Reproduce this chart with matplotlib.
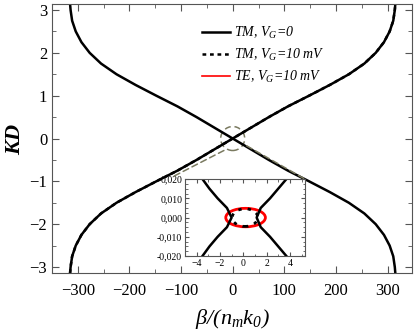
import matplotlib
matplotlib.use("Agg")
import matplotlib.pyplot as plt
from matplotlib.patches import Ellipse, ConnectionPatch
from matplotlib.ticker import MultipleLocator, FuncFormatter

# ---- data ----
kd_pos = [0.0, 0.25, 0.5, 0.75, 1.0, 1.25, 1.5, 1.75, 2.0, 2.25, 2.5, 2.75, 3.0, 3.1416]
beta_pos = [0, 35, 70, 107, 148, 188, 225, 255, 277, 293, 304, 311, 314, 315]

# inset (zoom near origin)
kd_in = [-0.02, -0.015, -0.01, -0.005, 0.0, 0.005, 0.01, 0.015, 0.02]
beta_in_right = [3.7, 3.0, 2.3, 1.5, 1.15, 1.5, 2.3, 3.0, 3.7]
beta_in_left = [-3.5, -2.9, -2.2, -1.4, -1.0, -1.4, -2.2, -2.9, -3.5]
# TM, VG=10 mV closed gap contour (dotted) and TE contour (red)
tm10_center, tm10_w, tm10_h = (0.15, 0.0), 2.2, 0.0092
te_center, te_w, te_h = (0.2, 0.0), 3.4, 0.0096

labels = ['TM, V$_G$=0', 'TM, V$_G$=10 mV', 'TE, V$_G$=10 mV']

plt.rcParams['font.family'] = ['Liberation Serif', 'DejaVu Serif']
plt.rcParams['mathtext.fontset'] = 'custom'
plt.rcParams['mathtext.it'] = 'Liberation Serif:italic'
plt.rcParams['mathtext.rm'] = 'Liberation Serif:italic'
plt.rcParams['mathtext.bf'] = 'Liberation Serif:bold:italic'

fig = plt.figure(figsize=(4.16, 3.36), dpi=100)
ax = fig.add_axes([0.125, 0.1875, 0.865, 0.8005])

kd_full = [-k for k in kd_pos[::-1]] + kd_pos[1:]
beta_rise = [-b for b in beta_pos[::-1]] + beta_pos[1:]
beta_fall = [b for b in beta_pos[::-1]] + [-b for b in beta_pos[1:]]

ax.plot(beta_rise, kd_full, color='black', lw=1.8, label=labels[0])
ax.plot(beta_fall, kd_full, color='black', lw=1.8)
ax.plot(beta_rise, kd_full, color='black', lw=1.8, ls=(0, (1.5, 1.5)), label=labels[1])
ax.plot([], [], color='red', lw=1.2, label=labels[2])

ax.set_xlim(-350, 347)
ax.set_ylim(-3.14, 3.14)
ax.xaxis.set_major_locator(MultipleLocator(100))
ax.xaxis.set_minor_locator(MultipleLocator(50))
ax.yaxis.set_major_locator(MultipleLocator(1))
ax.yaxis.set_minor_locator(MultipleLocator(0.5))
ax.tick_params(which='both', direction='in', top=True, right=True, labelsize=12, color='#555555')
ax.tick_params(which='major', length=5)
ax.tick_params(which='minor', length=3)
ax.tick_params(axis='x', pad=7)
for s in ax.spines.values():
    s.set_color('#555555')
ax.set_xlabel(r'$\beta/(n_m k_0)$', fontsize=16, labelpad=6)
ax.set_ylabel(r'$\mathbf{KD}$', fontsize=16, labelpad=3)

leg = ax.legend(loc='upper left', bbox_to_anchor=(0.39, 0.96), frameon=False,
                prop={'style': 'italic', 'size': 10},
                handlelength=2.0, handletextpad=0.3, labelspacing=0.45, borderpad=0.2)

# zoom circle
ax.add_artist(Ellipse(ax.transData.transform((0, 0)), 24, 24, transform=None,
                      fill=False, edgecolor='#7a7a60', ls=(0, (4, 2.5)), lw=1.1))

# inset
axin = fig.add_axes([0.4447, 0.238, 0.2885, 0.229])
axin.plot(beta_in_right, kd_in, color='black', lw=1.8)
axin.plot(beta_in_left, kd_in, color='black', lw=1.8)
axin.add_patch(Ellipse(te_center, te_w, te_h, fill=False, edgecolor='red', lw=2.0))
axin.add_patch(Ellipse(tm10_center, tm10_w, tm10_h, fill=False, edgecolor='black',
                       lw=2.0, ls=(0, (1.2, 2.2))))
axin.set_xlim(-5.0, 5.3)
axin.set_ylim(-0.02, 0.02)
axin.xaxis.set_major_locator(MultipleLocator(2))
axin.xaxis.set_minor_locator(MultipleLocator(1))
axin.yaxis.set_major_locator(MultipleLocator(0.01))
axin.yaxis.set_minor_locator(MultipleLocator(0.0025))
axin.yaxis.set_major_formatter(FuncFormatter(lambda v, p: f'{v:.3f}'.replace('.', ',').replace('-0,000', '0,000')))
axin.tick_params(which='both', direction='in', top=True, right=True, labelsize=7, color='#555555', pad=2)
axin.tick_params(which='major', length=3)
axin.tick_params(which='minor', length=1.8)
for s in axin.spines.values():
    s.set_color('#555555')

# connector lines
for (xa, ya), (xb, yb) in [((-17, -0.28), (-0.09, 1.04)), ((27, -0.17), (1.0, 1.0))]:
    con = ConnectionPatch(xyA=(xa, ya), coordsA=ax.transData, xyB=(xb, yb), coordsB=axin.transAxes,
                          color='#7a7a60', ls=(0, (4, 2.5)), lw=1.1)
    fig.add_artist(con)

fig.savefig('out.png', dpi=100)
